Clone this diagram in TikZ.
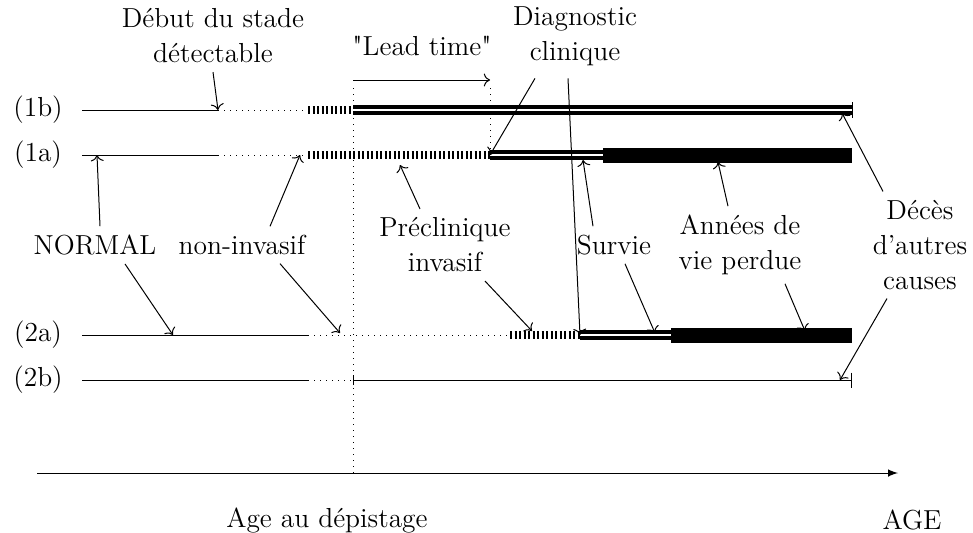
\documentclass[tikz,border=0pt]{standalone}
\usepackage{tikz}
\usetikzlibrary{arrows, arrows.meta, calc}
\font\rawlm="[lmroman10-regular]" at 11pt

\begin{document}
\begin{tikzpicture}[x=0.4pt, y=-0.4pt]
		\tikzstyle{Label} = [font=\fontsize{11}{14}\selectfont, align=center]
		\tikzstyle{Latent} = [dotted]
		\tikzstyle{Preclin} = [line width=3pt, dash pattern=on 0.9pt off 0.9pt]
		\tikzstyle{Clinic} = [line width=1.4pt, double, double distance=1pt]
		\tikzstyle{Lost} = [line width=6pt]
		\tikzstyle{arrow} = [->]
		
		\useasboundingbox (0,0) rectangle (973,533);
		
		% row labels
		\node (row1b) [Label] at (38,110) {(1b)};
		\node (row1a) [Label] at (38,155) {(1a)};
		\node (row2a) [Label] at (38,335) {(2a)};
		\node (row2b) [Label] at (38,380) {(2b)};
		
		% break points of each history
		\coordinate (b1) at (82,110);  \coordinate (b2) at (218,110);
		\coordinate (b3) at (308,110); \coordinate (b4) at (353,110);
		\coordinate (b5) at (852,110);
		\coordinate (a1) at (82,155);  \coordinate (a2) at (218,155);
		\coordinate (a3) at (308,155); \coordinate (a4) at (490,155);
		\coordinate (a5) at (603,155); \coordinate (a6) at (852,155);
		\coordinate (c1) at (82,335);  \coordinate (c2) at (308,335);
		\coordinate (c3) at (510,335); \coordinate (c4) at (580,335);
		\coordinate (c5) at (671,335); \coordinate (c6) at (852,335);
		\coordinate (d1) at (82,380);  \coordinate (d2) at (308,380);
		\coordinate (d3) at (353,380); \coordinate (d4) at (852,380);
		
		\draw (b1) -- (b2);
		\draw [Latent] (b2) -- (b3);
		\draw [Preclin] (b3) -- (b4);
		\draw [Clinic] (b4) -- (b5);
		\draw ($(b5)+(0,-8)$) -- ($(b5)+(0,8)$);
		
		\draw (a1) -- (a2);
		\draw [Latent] (a2) -- (a3);
		\draw [Preclin] (a3) -- (a4);
		\draw [Clinic] (a4) -- (a5);
		\draw [Lost] (a5) -- (a6);
		
		\draw (c1) -- (c2);
		\draw [Latent] (c2) -- (c3);
		\draw [Preclin] (c3) -- (c4);
		\draw [Clinic] (c4) -- (c5);
		\draw [Lost] (c5) -- (c6);
		
		\draw (d1) -- (d2);
		\draw [Latent] (d2) -- (d3);
		\draw [{Bar[width=4pt]}-{Bar[width=6pt]}] (d3) -- (d4);
		
		% screening and lead time
		\coordinate (screen) at (353,88);
		\coordinate (axisL) at (37,473);
		\coordinate (axisR) at (898,473);
		\coordinate (lt1) at (353,80);
		\coordinate (lt2) at (490,80);
		\draw [Latent] (screen) -- (screen |- axisL);
		\draw [Latent] (490,88) -- (a4);
		\draw [arrow] (lt1) -- (lt2);
		\node (lead) [Label] at (422,46) {{\rawlm"}Lead time{\rawlm"}};
		\draw [-latex] (axisL) -- (axisR);
		\node (agescreen) [Label] at (327,520) {Age au dépistage};
		\node (age) [Label] at (912,520) {AGE};
		
		% labels
		\node (debut) [Label] at (213,36) {Début du stade\\détectable};
		\node (diag) [Label] at (575,36) {Diagnostic\\clinique};
		\node (normal) [Label] at (95,245) {NORMAL};
		\node (noninv) [Label] at (242,245) {non-invasif};
		\node (preclin) [Label] at (445,245) {Préclinique\\invasif};
		\node (survie) [Label] at (614,245) {Survie};
		\node (annees) [Label] at (740,245) {Années de\\vie perdue};
		\node (deces) [Label] at (920,245) {Décès\\d’autres\\causes};
		
		\draw [arrow] (debut.south) -- (b2);
		\draw [arrow] ($(diag.south)+(-40,4)$) -- (a4);
		\draw [arrow] ($(diag.south)+(-7,4)$) -- (c4);
		\draw [arrow] ($(normal.north)+(5,0)$) -- ($(a1)+(15,0)$);
		\draw [arrow] ($(normal.south)+(30,0)$) -- (173,335);
		\draw [arrow] ($(noninv.north)+(28,0)$) -- ($(a3)+(-8,0)$);
		\draw [arrow] ($(noninv.south)+(38,0)$) -- ($(c2)+(32,-2)$);
		\draw [arrow] ($(preclin.north)+(-25,0)$) -- (400,165);
		\draw [arrow] ($(preclin.south)+(40,0)$) -- (532,331);
		\draw [arrow] ($(survie.north)+(-21,0)$) -- (583,160);
		\draw [arrow] ($(survie.south)+(11,0)$) -- (655,333);
		\draw [arrow] ($(annees.north)+(-12,0)$) -- (718,162);
		\draw [arrow] ($(annees.south)+(45,0)$) -- (805,331);
		\draw [arrow] ($(deces.north)+(-37,0)$) -- ($(b5)+(-10,3)$);
		\draw [arrow] ($(deces.south)+(-33,0)$) -- ($(d4)+(-12,0)$);
\end{tikzpicture}
\end{document}
